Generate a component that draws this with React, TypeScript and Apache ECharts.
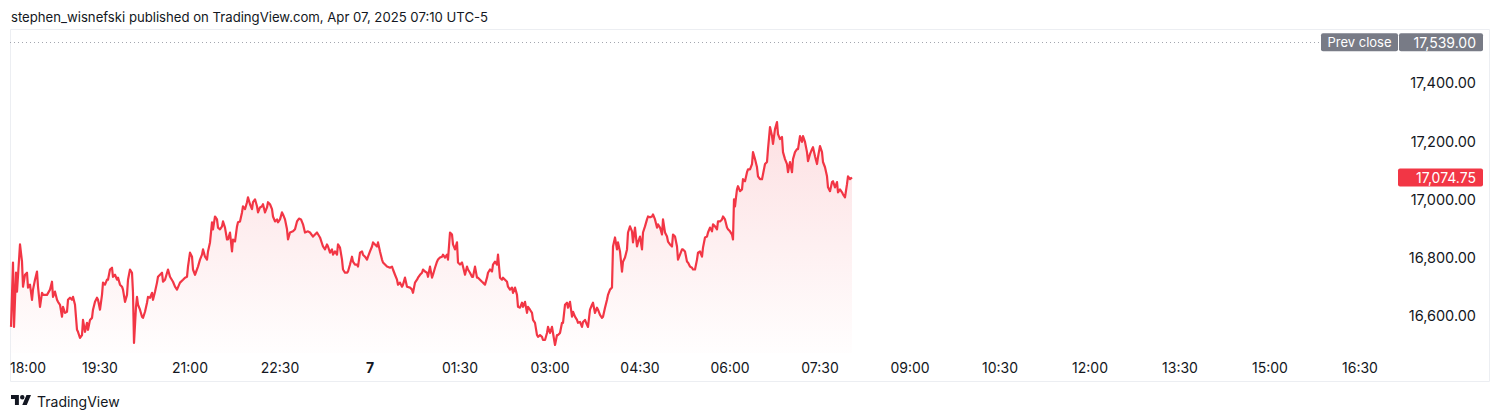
import React, { useEffect, useRef } from "react";
import * as echarts from "echarts";

// minutes after 18:00 (Sun) -> price
const EVENING: [number, number][] = [
  [1,16562],[3,16783],[4,16562],[6,16748],[7,16683],[10,16845],[12,16786],[13,16700],[15,16741],[17,16748],[18,16697],[20,16707],[22,16655],[23,16690],[25,16724],[27,16752],[28,16700],[30,16631],[32,16679],[33,16672],[37,16672],[40,16690],[42,16717],[43,16665],[45,16683],[47,16655],[48,16648],[50,16638],[52,16597],[53,16631],[55,16610],[57,16614],[58,16655],[60,16662],[62,16655],[63,16665],[65,16638],[67,16552],[68,16545],[70,16524],[72,16534],[73,16586],[75,16545],[77,16576],[78,16552],[80,16586],[82,16593],[83,16621],[85,16648],[87,16662],[88,16655],[90,16621],[92,16672],[93,16714],[95,16707],[97,16724],[98,16724],[100,16759],[102,16765],[103,16734],[105,16741],[107,16724],[108,16731],[110,16707],[112,16700],[113,16690],[115,16648],[117,16672],[118,16724],[120,16759],[122,16748],[123,16679],[124,16507],[126,16631],[127,16665],[128,16638],[130,16621],[132,16597],[133,16593],[135,16614],[137,16645],[138,16665],[140,16662],[142,16679],[143,16655],[145,16683],[147,16714],[148,16734],[150,16741],[152,16748],[153,16717],[155,16724],[158,16759],[160,16734],[163,16717],[165,16700],[167,16690],[170,16714],[173,16724],[175,16731],[177,16734],[178,16769],[180,16817],[182,16803],[183,16759],[185,16741],[188,16769],[190,16793],[192,16810],[193,16828],[195,16803],[197,16793],[198,16821],[200,16852],[202,16921],[203,16897],[205,16941],[207,16931],[208,16903],[210,16897],[212,16907],[213,16924],[215,16903],[217,16862],[218,16862],[220,16886],[222,16821],[223,16862],[225,16855],[227,16907],[228,16921],[230,16924],[232,16955],[233,16976],[235,16966],[237,16990],[238,17007],[240,16983],[242,16966],[243,16990],[245,17000],[247,16976],[248,16955],[250,16972],[252,16976],[253,16983],[255,16955],[257,16972],[258,16990],[260,16983],[262,16966],[263,16941],[265,16924],[267,16931],[268,16921],[270,16931],[272,16955],[273,16948],[275,16931],[277,16897],[278,16862],[280,16886],[283,16890],[285,16897],[287,16924],[289,16934],
];
const OVERNIGHT: [number, number][] = [
  [291,16931],[293,16914],[295,16886],[298,16890],[300,16886],[303,16872],[305,16879],[307,16886],[310,16869],[313,16838],[315,16828],[317,16845],[318,16838],[320,16817],[322,16828],[323,16810],[325,16821],[327,16810],[328,16845],[330,16834],[332,16793],[333,16759],[335,16748],[337,16748],[338,16752],[340,16776],[342,16803],[343,16786],[345,16776],[347,16776],[348,16769],[350,16817],[352,16821],[353,16810],[355,16803],[357,16793],[358,16803],[360,16821],[362,16838],[363,16852],[365,16845],[367,16838],[368,16852],[370,16821],[372,16793],[373,16783],[377,16769],[380,16765],[382,16769],[383,16759],[385,16741],[387,16724],[388,16707],[390,16714],[392,16700],[393,16707],[395,16731],[397,16700],[400,16697],[402,16690],[403,16679],[405,16714],[407,16724],[408,16731],[410,16741],[412,16748],[413,16759],[415,16752],[417,16748],[418,16734],[420,16769],[422,16731],[423,16741],[425,16765],[427,16786],[428,16793],[430,16800],[432,16803],[433,16810],[435,16800],[437,16810],[438,16793],[440,16886],[442,16879],[443,16845],[445,16828],[447,16852],[448,16783],[450,16776],[452,16783],[453,16769],[455,16741],[457,16769],[458,16759],[460,16748],[462,16734],[463,16734],[465,16769],[467,16731],[468,16731],[470,16724],[472,16717],[473,16714],[475,16707],[477,16731],[478,16748],[480,16759],[482,16752],[483,16776],[485,16786],[487,16776],[488,16810],[490,16731],[492,16724],[493,16731],[495,16724],[497,16717],[498,16700],[500,16690],[502,16697],[503,16679],[505,16697],[507,16672],[508,16631],[510,16628],[512,16645],[513,16631],[515,16648],[517,16610],[518,16631],[520,16621],[522,16610],[523,16586],[525,16576],[527,16534],[528,16528],[530,16534],[532,16528],[533,16517],[535,16517],[537,16541],[538,16562],[540,16541],[542,16562],[543,16541],[545,16500],[547,16534],[548,16534],[550,16541],[552,16576],[553,16576],[555,16638],[557,16645],[558,16628],[560,16648],[562,16597],[563,16614],[565,16597],[567,16586],[568,16576],[570,16579],[572,16562],[573,16579],[575,16586],[577,16569],[578,16562],[580,16621],[582,16638],[583,16645],[585,16610],[587,16628],[588,16621],[590,16603],[592,16593],[593,16597],[595,16628],[597,16655],[598,16672],[600,16690],
];
const MORNING: [number, number][] = [
  [602,16697],[603,16838],[605,16869],[607,16828],[608,16852],[610,16821],[612,16752],[613,16786],[615,16800],[617,16828],[618,16886],[620,16907],[622,16890],[623,16852],[625,16903],[627,16838],[628,16852],[630,16872],[632,16828],[633,16886],[635,16907],[637,16931],[638,16941],[640,16938],[642,16941],[643,16948],[645,16931],[647,16903],[648,16914],[650,16903],[652,16879],[653,16931],[655,16886],[657,16872],[658,16855],[660,16845],[662,16838],[663,16879],[665,16872],[667,16838],[668,16793],[670,16810],[672,16828],[673,16828],[675,16821],[677,16786],[678,16783],[680,16769],[682,16765],[683,16759],[685,16759],[687,16793],[688,16817],[690,16821],[692,16803],[693,16834],[695,16869],[697,16872],[698,16886],[700,16903],[702,16890],[703,16914],[705,16907],[707,16897],[708,16924],[710,16924],[712,16931],[713,16941],[715,16931],[717,16903],[718,16897],[720,16890],[722,16879],[723,16862],[724,17000],[725,16976],[726,17007],[727,17034],[728,17045],[730,17028],[732,17034],[733,17069],[735,17062],[737,17093],[738,17103],[740,17103],[742,17121],[743,17162],[745,17138],[747,17110],[748,17079],[750,17069],[752,17069],[753,17086],[755,17121],[757,17128],[758,17172],[760,17248],[762,17217],[763,17190],[765,17241],[767,17265],[768,17224],[770,17207],[772,17214],[773,17162],[775,17138],[777,17121],[778,17093],[780,17128],[782,17093],[783,17138],[785,17162],[787,17172],[788,17172],[790,17217],[792,17197],[793,17217],[795,17197],[797,17162],[798,17131],[800,17155],[802,17172],[803,17179],[805,17148],[807,17121],[808,17145],[810,17183],[812,17162],[813,17128],[815,17110],[817,17079],[818,17041],[820,17028],[822,17059],[823,17062],[825,17041],[827,17059],[828,17024],[830,17034],[832,17024],[833,17017],[835,17007],[837,17052],[838,17079],[840,17069],[842,17074.75],
];

const PRICE_TICKS = [16600, 16800, 17000, 17200, 17400];
const PREV_CLOSE = 17539.0;
const LAST_PRICE = 17074.75;
const HEADER = "stephen_wisnefski published on TradingView.com, Apr 07, 2025 07:10 UTC-5";
const START_MIN = 18 * 60;
const X_MAX = 1386;
const Y_MIN = 16472.4;
const Y_MAX = 17584.6;

const FONT = 'Inter, "Noto Sans", sans-serif';
const TEXT = "#131722";
const RED = "#f23645";
const GREY = "#787b86";

const fmtPrice = (v: number) =>
  v.toLocaleString("en-US", { minimumFractionDigits: 2, maximumFractionDigits: 2 });
const pad = (n: number) => (n < 10 ? "0" + n : "" + n);

const LOGO_D =
  "M14 22H7V11H0V4h14v18zM28 22h-8l7.5-18h8L28 22zM24 8a4 4 0 1 1-8 0a4 4 0 1 1 8 0z";

let registered = false;

export default function App() {
  const ref = useRef<HTMLDivElement>(null);
  useEffect(() => {
    if (!registered) {
      echarts.graphic.registerShape("tvlogo", echarts.graphic.extendPath(LOGO_D, {}) as any);
      registered = true;
    }
    const chart = echarts.init(ref.current!, null, { renderer: "svg" });
    const data = [...EVENING, ...OVERNIGHT, ...MORNING];
    chart.setOption({
      animation: false,
      backgroundColor: "#ffffff",
      textStyle: { fontFamily: FONT },
      grid: { left: 10, top: 29, width: 1386, height: 324 },
      xAxis: {
        type: "value",
        min: 0,
        max: X_MAX,
        interval: 90,
        axisLine: { show: false },
        axisTick: { show: false },
        splitLine: { show: false },
        axisLabel: {
          margin: 7,
          color: TEXT,
          fontSize: 14,
          fontFamily: FONT,
          showMaxLabel: false,
          alignMinLabel: "left",
          formatter: (v: number) => {
            const m = (START_MIN + v) % 1440;
            if (m === 0) return "{b|7}";
            return pad(Math.floor(m / 60)) + ":" + pad(m % 60);
          },
          rich: { b: { fontWeight: "bold", fontSize: 14, color: TEXT, fontFamily: FONT } },
        },
      },
      yAxis: {
        type: "value",
        position: "right",
        min: Y_MIN,
        max: Y_MAX,
        axisLine: { show: false },
        axisTick: { show: false },
        splitLine: { show: false },
        axisLabel: {
          customValues: PRICE_TICKS,
          margin: 80,
          align: "right",
          color: TEXT,
          fontSize: 14.5,
          fontFamily: FONT,
          formatter: (v: number) => fmtPrice(v),
        },
      },
      series: [
        {
          type: "line",
          data,
          showSymbol: false,
          symbol: "none",
          lineStyle: { color: RED, width: 2.2, join: "round" },
          areaStyle: {
            color: new echarts.graphic.LinearGradient(0, 0, 0, 1, [
              { offset: 0, color: "rgba(242,54,69,0.22)" },
              { offset: 1, color: "rgba(242,54,69,0.01)" },
            ]),
          },
          markLine: {
            silent: true,
            symbol: "none",
            label: { show: false },
            lineStyle: { color: "#a3a6af", type: [1, 3], width: 1 },
            data: [{ yAxis: PREV_CLOSE }],
          },
        },
      ],
    });

    const yPrev = chart.convertToPixel({ yAxisIndex: 0 }, PREV_CLOSE) as number;
    const yLast = chart.convertToPixel({ yAxisIndex: 0 }, LAST_PRICE) as number;
    const bh = 18;
    chart.setOption({
      graphic: [
        {
          type: "rect",
          silent: true,
          shape: { x: 10.5, y: 29.5, width: 1479, height: 352 },
          style: { fill: "none", stroke: "#eceef2", lineWidth: 1 },
          z: 0,
        },
        {
          type: "text",
          x: 11,
          y: 17,
          style: {
            text: HEADER,
            fill: TEXT,
            font: `13.15px ${FONT}`,
            textAlign: "left",
            textVerticalAlign: "middle",
            align: "left",
            verticalAlign: "middle",
          },
        },
        {
          type: "rect",
          shape: { x: 1321, y: yPrev - bh / 2, width: 77, height: bh, r: 2 },
          style: { fill: GREY },
          z: 50,
        },
        {
          type: "rect",
          shape: { x: 1399, y: yPrev - bh / 2, width: 84, height: bh, r: 2 },
          style: { fill: GREY },
          z: 50,
        },
        {
          type: "text",
          x: 1359.5,
          y: yPrev,
          z: 51,
          style: {
            text: "Prev close",
            fill: "#ffffff",
            font: `13px ${FONT}`,
            textAlign: "center",
            textVerticalAlign: "middle",
            align: "center",
            verticalAlign: "middle",
          },
        },
        {
          type: "text",
          x: 1476,
          y: yPrev,
          z: 51,
          style: {
            text: fmtPrice(PREV_CLOSE),
            fill: "#ffffff",
            font: `14px ${FONT}`,
            textAlign: "right",
            textVerticalAlign: "middle",
            align: "right",
            verticalAlign: "middle",
          },
        },
        {
          type: "rect",
          shape: { x: 1398, y: yLast - bh / 2, width: 85, height: bh, r: 2 },
          style: { fill: RED },
          z: 50,
        },
        {
          type: "text",
          x: 1476,
          y: yLast,
          z: 51,
          style: {
            text: fmtPrice(LAST_PRICE),
            fill: "#ffffff",
            font: `14px ${FONT}`,
            textAlign: "right",
            textVerticalAlign: "middle",
            align: "right",
            verticalAlign: "middle",
          },
        },
        {
          type: "tvlogo",
          x: 11,
          y: 392.7,
          scaleX: 0.563,
          scaleY: 0.563,
          style: { fill: TEXT },
        },
        {
          type: "text",
          x: 37,
          y: 401,
          style: {
            text: "TradingView",
            fill: TEXT,
            font: `14px ${FONT}`,
            textAlign: "left",
            textVerticalAlign: "middle",
            align: "left",
            verticalAlign: "middle",
          },
        },
      ],
    });
    return () => chart.dispose();
  }, []);
  return (
    <div
      ref={ref}
      style={{ position: "fixed", left: 0, top: 0, width: 1500, height: 420, background: "#fff" }}
    />
  );
}
